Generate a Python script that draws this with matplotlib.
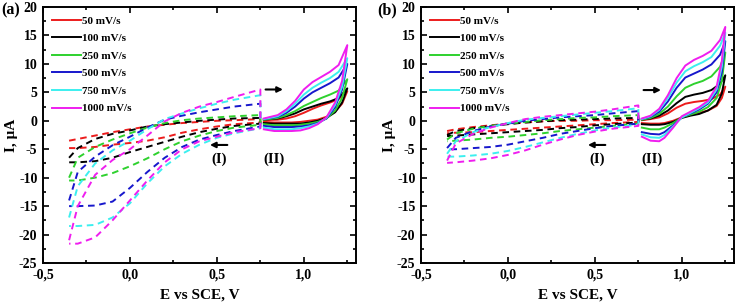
import numpy as np
import matplotlib
matplotlib.use("Agg")
import matplotlib.pyplot as plt
from matplotlib.ticker import MultipleLocator, FuncFormatter

plt.rcParams['font.family'] = ['Liberation Serif', 'DejaVu Serif']
plt.rcParams['font.weight'] = 'bold'
plt.rcParams['axes.labelweight'] = 'bold'
plt.rcParams['axes.unicode_minus'] = False

# scan rates and colours
labels = ['50 mV/s', '100 mV/s', '250 mV/s', '500 mV/s', '750 mV/s', '1000 mV/s']
colors = ['#ec1c1c', '#000000', '#2ed12e', '#1717cc', '#3cefef', '#ef1eef']

# region (I): dashed loops, potential grid of forward / reverse branch
x_I_fwd = [-0.35, -0.3, -0.2, -0.1, 0.0, 0.1, 0.2, 0.3, 0.4, 0.5, 0.6, 0.75]
x_I_rev = [0.75, 0.6, 0.5, 0.4, 0.3, 0.2, 0.1, 0.0, -0.1, -0.2, -0.3, -0.35]

# panel (a), region I
a_I_fwd = [
    [-3.5, -3.2, -2.6, -2.0, -1.5, -1.0, -0.7, -0.4, -0.2, 0.0, 0.1, 0.3],
    [-6.5, -4.8, -3.2, -2.3, -1.7, -1.0, -0.6, -0.3, 0.0, 0.2, 0.4, 0.5],
    [-10.0, -6.5, -4.6, -3.3, -2.2, -1.2, -0.4, 0.1, 0.4, 0.6, 0.8, 1.0],
    [-14.0, -9.0, -6.3, -4.3, -2.8, -1.2, 0.2, 0.9, 1.5, 2.0, 2.5, 3.0],
    [-17.0, -11.5, -7.5, -5.2, -3.5, -1.5, 0.3, 1.3, 2.2, 3.0, 3.7, 4.5],
    [-21.0, -15.0, -9.5, -6.9, -5.0, -2.6, -0.1, 1.4, 2.5, 3.3, 4.2, 5.5],
]
a_I_rev = [
    [-0.3, -0.6, -1.0, -1.5, -2.1, -2.9, -3.5, -3.9, -4.2, -4.6, -4.8, -4.8],
    [-0.5, -0.9, -1.4, -2.0, -2.8, -3.7, -4.6, -5.5, -6.5, -7.1, -7.3, -7.3],
    [-0.7, -1.2, -1.8, -2.6, -3.6, -5.0, -6.6, -8.0, -9.2, -10.0, -10.5, -10.5],
    [-1.0, -1.8, -2.5, -3.3, -4.6, -6.5, -9.0, -11.8, -14.2, -14.9, -15.0, -15.0],
    [-1.3, -2.2, -3.0, -4.2, -5.8, -8.0, -11.0, -14.5, -17.0, -18.3, -18.5, -18.5],
    [-1.3, -2.0, -2.8, -3.6, -5.0, -7.3, -10.5, -14.0, -17.5, -20.5, -21.6, -21.6],
]

# panel (b), region I
b_I_fwd = [
    [-1.8, -1.5, -1.1, -0.8, -0.5, -0.3, -0.1, 0.0, 0.0, 0.1, 0.1, 0.2],
    [-2.5, -1.8, -1.3, -0.9, -0.6, -0.3, -0.1, 0.1, 0.2, 0.3, 0.4, 0.5],
    [-3.3, -2.2, -1.4, -0.9, -0.5, -0.2, 0.1, 0.3, 0.5, 0.6, 0.8, 1.0],
    [-4.8, -3.0, -1.8, -1.0, -0.5, 0.0, 0.3, 0.6, 0.8, 1.0, 1.3, 1.7],
    [-5.8, -3.6, -2.0, -1.1, -0.4, 0.2, 0.5, 0.8, 1.1, 1.4, 1.7, 2.2],
    [-7.0, -4.0, -2.3, -1.2, -0.4, 0.3, 0.7, 1.0, 1.3, 1.6, 2.0, 2.7],
]
b_I_rev = [
    [-0.2, -0.4, -0.6, -0.8, -1.0, -1.2, -1.4, -1.6, -1.8, -2.0, -2.1, -2.2],
    [-0.3, -0.6, -0.8, -1.1, -1.3, -1.6, -1.8, -2.0, -2.2, -2.4, -2.6, -2.7],
    [-0.5, -0.9, -1.2, -1.5, -1.8, -2.2, -2.5, -2.8, -3.0, -3.3, -3.5, -3.6],
    [-0.5, -0.9, -1.3, -1.8, -2.3, -3.0, -3.6, -4.2, -4.6, -4.8, -5.0, -5.0],
    [-0.7, -1.2, -1.7, -2.3, -3.0, -3.8, -4.6, -5.3, -5.8, -6.1, -6.3, -6.3],
    [-0.9, -1.4, -1.9, -2.5, -3.3, -4.2, -5.2, -6.0, -6.6, -7.0, -7.3, -7.4],
]

# region (II): solid loops
xa_II_fwd = [0.77, 0.85, 0.9, 0.95, 1.0, 1.05, 1.1, 1.15, 1.2, 1.25]
xa_II_rev = [1.25, 1.22, 1.18, 1.13, 1.08, 1.03, 0.98, 0.93, 0.88, 0.83, 0.77]

a_II_fwd = [
    [0.1, 0.2, 0.4, 0.8, 1.4, 2.1, 2.7, 3.2, 3.8, 5.2],
    [0.2, 0.4, 0.8, 1.3, 2.0, 2.5, 3.0, 3.4, 4.0, 5.7],
    [0.2, 0.5, 1.0, 1.7, 2.6, 3.3, 4.0, 4.6, 5.3, 7.3],
    [0.3, 0.7, 1.4, 2.5, 3.9, 5.0, 5.8, 6.6, 7.6, 10.0],
    [0.3, 0.8, 1.7, 3.0, 4.6, 5.8, 6.7, 7.5, 8.6, 11.0],
    [0.4, 1.0, 2.0, 3.5, 5.5, 6.8, 7.7, 8.6, 9.8, 13.3],
]
a_II_rev = [
    [5.2, 3.0, 1.6, 0.7, 0.2, 0.0, -0.2, -0.3, -0.3, -0.3, -0.2],
    [5.7, 3.2, 1.5, 0.5, 0.0, -0.3, -0.5, -0.5, -0.5, -0.5, -0.4],
    [7.3, 4.0, 1.8, 0.4, -0.2, -0.5, -0.7, -0.8, -0.8, -0.8, -0.6],
    [10.0, 5.5, 2.4, 0.4, -0.4, -0.8, -1.0, -1.1, -1.1, -1.1, -0.9],
    [11.0, 6.0, 2.8, 0.5, -0.5, -1.0, -1.3, -1.5, -1.5, -1.5, -1.2],
    [13.3, 7.0, 3.2, 0.6, -0.6, -1.3, -1.7, -1.8, -1.8, -1.8, -1.5],
]

xb_II_fwd = [0.77, 0.82, 0.87, 0.92, 0.97, 1.02, 1.07, 1.12, 1.17, 1.22, 1.25]
xb_II_rev = [1.25, 1.23, 1.2, 1.15, 1.1, 1.05, 1.0, 0.95, 0.9, 0.87, 0.82, 0.77]

b_II_fwd = [
    [0.1, 0.3, 0.6, 1.3, 2.3, 3.0, 3.3, 3.5, 3.8, 4.6, 6.0],
    [0.2, 0.4, 0.9, 1.8, 3.1, 4.2, 4.6, 4.9, 5.4, 6.5, 8.0],
    [0.2, 0.5, 1.2, 2.5, 4.3, 5.8, 6.5, 7.0, 7.8, 9.5, 12.0],
    [0.3, 0.7, 1.6, 3.4, 5.8, 7.6, 8.3, 9.0, 9.9, 11.6, 14.0],
    [0.3, 0.8, 1.9, 4.0, 6.7, 8.7, 9.6, 10.3, 11.2, 13.2, 15.5],
    [0.4, 0.9, 2.1, 4.5, 7.5, 9.7, 10.7, 11.4, 12.3, 14.2, 16.5],
]
b_II_rev = [
    [6.0, 4.0, 2.6, 1.8, 1.4, 1.1, 0.6, 0.0, -0.4, -0.5, -0.5, -0.4],
    [8.0, 4.8, 2.8, 1.8, 1.2, 0.9, 0.5, -0.2, -0.6, -0.7, -0.7, -0.6],
    [12.0, 7.0, 4.0, 2.4, 1.6, 1.1, 0.6, -0.4, -1.2, -1.5, -1.5, -1.2],
    [14.0, 8.5, 5.0, 3.0, 2.0, 1.3, 0.6, -0.8, -2.0, -2.4, -2.3, -2.0],
    [15.5, 9.5, 5.5, 3.2, 2.2, 1.4, 0.6, -1.0, -2.5, -3.0, -2.9, -2.4],
    [16.5, 10.5, 6.0, 3.5, 2.4, 1.6, 0.8, -1.2, -3.0, -3.6, -3.5, -2.8],
]

panels = [
    ('(a)', a_I_fwd, a_I_rev, xa_II_fwd, xa_II_rev, a_II_fwd, a_II_rev, 5.5),
    ('(b)', b_I_fwd, b_I_rev, xb_II_fwd, xb_II_rev, b_II_fwd, b_II_rev, 5.4),
]

fig = plt.figure(figsize=(7.38, 3.03), dpi=100)
ax_lefts = [43 / 738, 421 / 738]
tag_x = [1 / 738, 377 / 738]

for k, (tag, I_fwd, I_rev, x2f, x2r, II_fwd, II_rev, ytop_arrow) in enumerate(panels):
    ax = fig.add_axes([ax_lefts[k], 40 / 303, 313 / 738, 256 / 303])

    for c in range(6):
        # dashed loop, region I
        ax.plot(x_I_fwd + x_I_rev, I_fwd[c] + I_rev[c], color=colors[c],
                lw=1.4, linestyle=(0, (3.4, 2.4)))
    for c in range(6):
        # solid loop, region II
        ax.plot(x2f + x2r, II_fwd[c] + II_rev[c], color=colors[c], lw=1.4,
                label=labels[c])

    ax.set_xlim(-0.5, 1.3)
    ax.set_ylim(-25, 20)
    ax.xaxis.set_major_locator(MultipleLocator(0.5))
    ax.xaxis.set_minor_locator(MultipleLocator(0.25))
    ax.yaxis.set_major_locator(MultipleLocator(5))
    ax.yaxis.set_minor_locator(MultipleLocator(2.5))
    ax.xaxis.set_major_formatter(FuncFormatter(lambda v, p: f'{v:.1f}'.replace('.', ',')))
    ax.yaxis.set_major_formatter(FuncFormatter(lambda v, p: f'{v:.0f}'))
    ax.tick_params(which='both', direction='in', top=True, right=True,
                   width=1.2, labelsize=10, pad=4)
    ax.tick_params(which='major', length=4)
    ax.tick_params(which='minor', length=2.5)
    for s in ax.spines.values():
        s.set_linewidth(1.4)

    ax.set_xlabel('E vs SCE, V', fontsize=11, fontweight='bold', labelpad=5)
    ax.set_ylabel('I, μA', fontsize=11, fontweight='bold', labelpad=1)

    # arrows and region labels
    ax.annotate('', xy=(0.88, ytop_arrow), xytext=(0.78, ytop_arrow),
                arrowprops=dict(arrowstyle='-|>', color='black', lw=1.5,
                                mutation_scale=8, shrinkA=0, shrinkB=0))
    ax.annotate('', xy=(0.46, -4.25), xytext=(0.56, -4.25),
                arrowprops=dict(arrowstyle='-|>', color='black', lw=1.5,
                                mutation_scale=8, shrinkA=0, shrinkB=0))
    ax.text(0.51, -6.7, '(I)', fontsize=10.5, fontweight='bold', ha='center', va='center')
    ax.text(0.83, -6.7, '(II)', fontsize=10.5, fontweight='bold', ha='center', va='center')

    leg = ax.legend(loc='upper left', frameon=False, fontsize=8, handlelength=2.6,
                    handletextpad=0.15, labelspacing=0.7, borderaxespad=0.5,
                    borderpad=0.3)
    for t in leg.get_texts():
        t.set_fontweight('bold')

    fig.text(tag_x[k], 1 - 2 / 303, tag, fontsize=11.5, fontweight='bold',
             ha='left', va='top')

fig.savefig('out.png', dpi=100)
